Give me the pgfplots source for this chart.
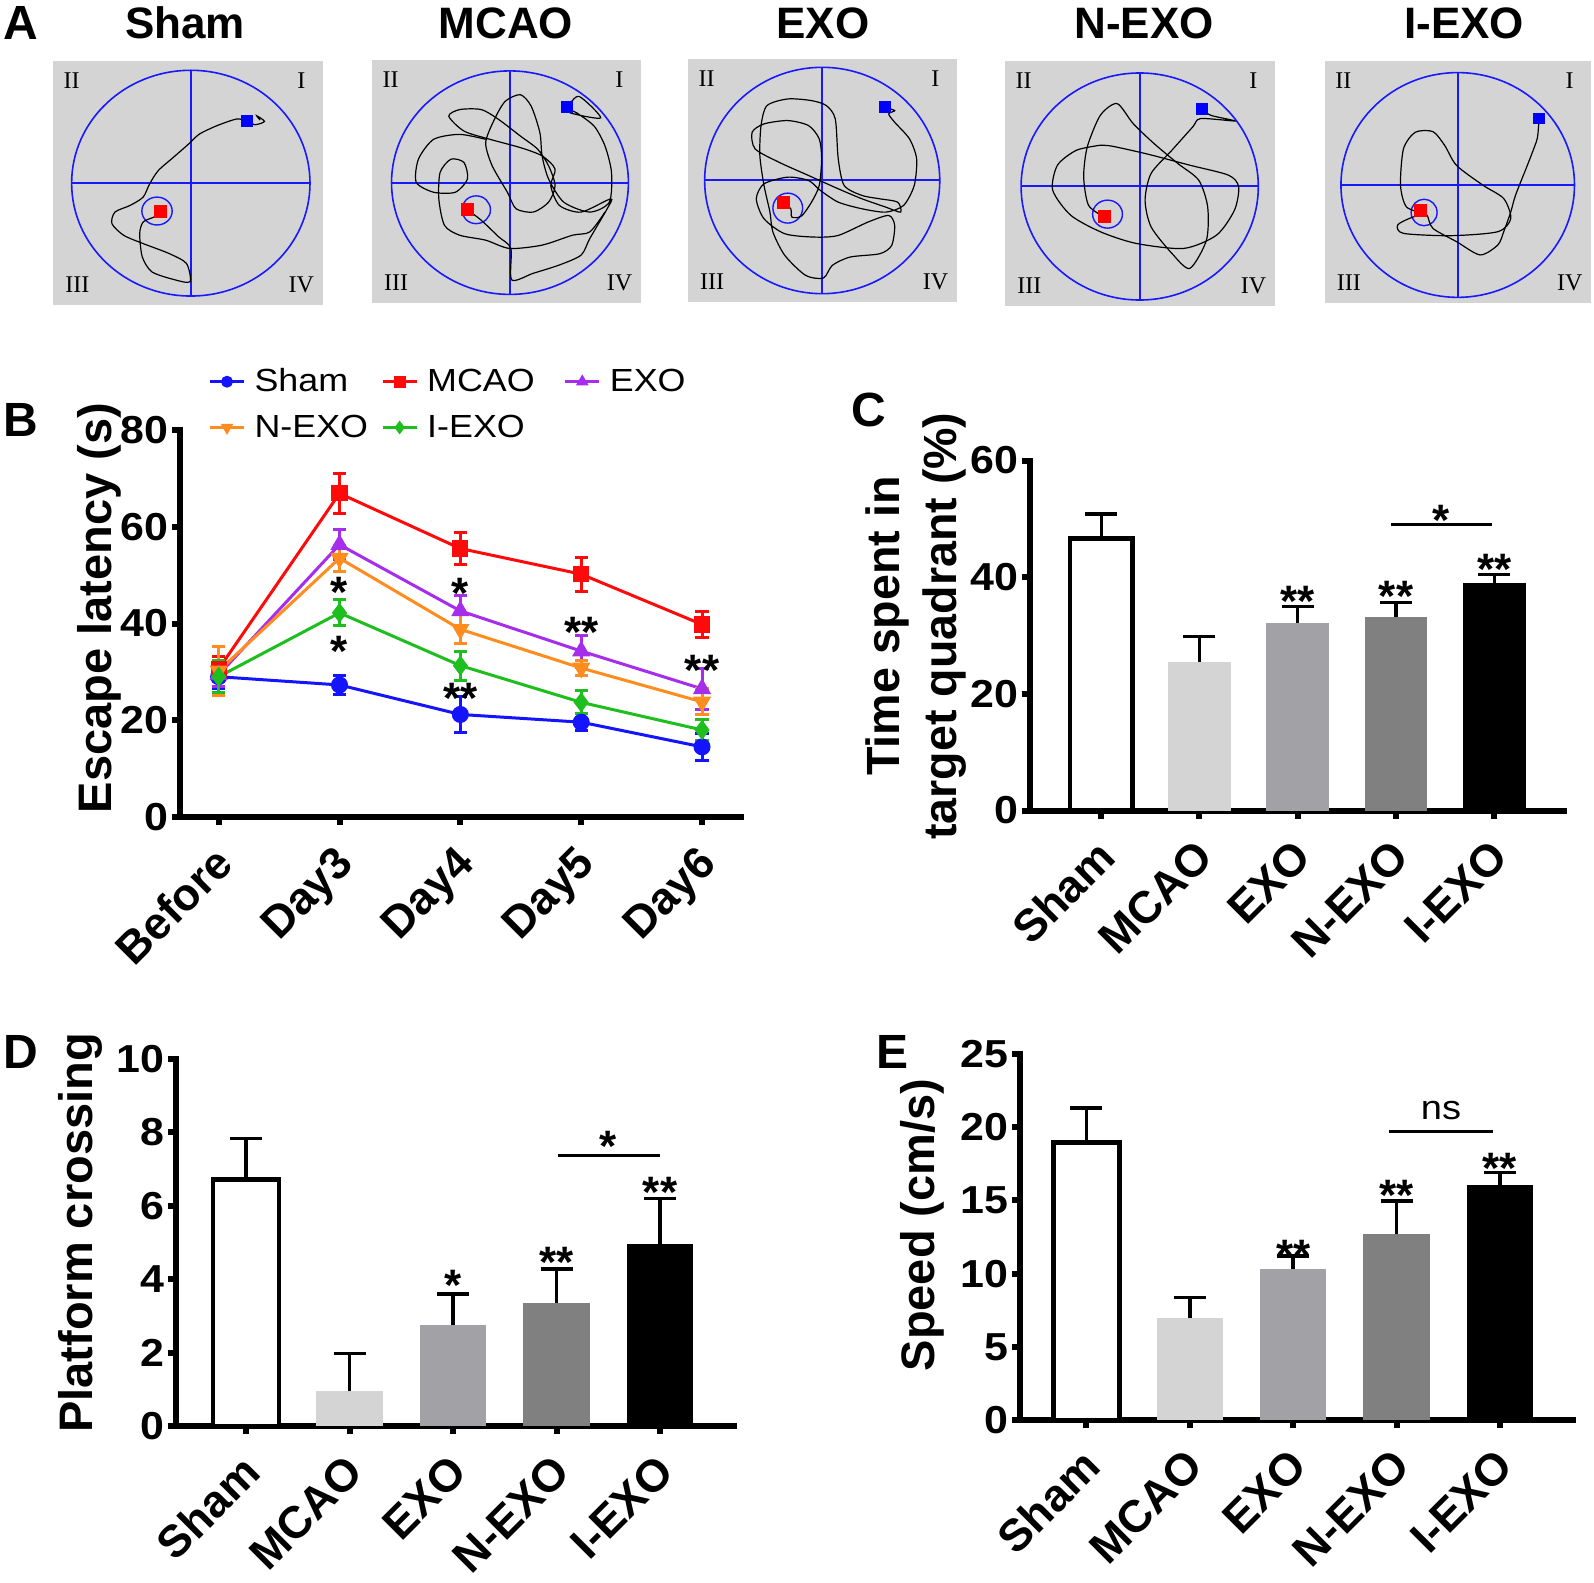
\documentclass[border=0pt]{standalone}
\usepackage{fontspec}
\setmainfont{Liberation Sans}
\newfontfamily\numfam[FakeStretch=1.1]{Liberation Sans}
\newfontfamily\legfam[FakeStretch=1.12]{Liberation Sans}
\newfontfamily\romfam{Liberation Serif}
\usepackage{pgfplots}
\pgfplotsset{compat=1.18}

\definecolor{poolgray}{RGB}{212,212,212}
\definecolor{poolblue}{RGB}{25,25,255}
\definecolor{cSham}{RGB}{20,20,255}
\definecolor{cMCAO}{RGB}{255,10,10}
\definecolor{cEXO}{RGB}{165,45,235}
\definecolor{cNEXO}{RGB}{255,140,30}
\definecolor{cIEXO}{RGB}{30,190,30}
\definecolor{gMCAO}{RGB}{212,212,212}
\definecolor{gEXO}{RGB}{162,162,166}
\definecolor{gNEXO}{RGB}{128,128,128}

\newcommand\numfont{\numfam\bfseries\fontsize{19.5}{22}\selectfont}
\newcommand\catfont{\bfseries\fontsize{22.5}{26}\selectfont}
\newcommand\labfont{\bfseries\fontsize{23.5}{27}\selectfont}
\newcommand\labfontC{\bfseries\fontsize{23.3}{28.5}\selectfont}
\newcommand\starfont{\bfseries\fontsize{22}{24}\selectfont}
\newcommand\letfont{\bfseries\fontsize{24}{28}\selectfont}
\newcommand\titfont{\bfseries\fontsize{22}{25}\selectfont}
\newcommand\legfont{\legfam\fontsize{16}{19}\selectfont}
\newcommand\nsfont{\legfam\fontsize{17}{20}\selectfont}
\newcommand\romfont{\romfam\fontsize{12}{14}\selectfont}

\tikzset{sig/.style={font=\starfont, anchor=base, inner sep=0pt, yshift=-12.6pt}}
\pgfplotsset{
  pool/.style={scale only axis, y dir=reverse, axis lines=none,
    xtick=\empty, ytick=\empty, axis background/.style={fill=poolgray}},
  trace/.style={black, line width=0.6pt, smooth, tension=0.45, no marks},
  quad/.style={poolblue, line width=1pt, no marks},
  prism/.style={scale only axis, axis x line*=bottom, axis y line*=left,
    axis line style={-, line width=3pt, line cap=rect},
    tick align=outside, major tick length=4pt,
    tick style={line width=3pt, black},
    ymin=0, clip=false,
    /pgf/number format/assume math mode=true,
    yticklabel style={font=\numfont, anchor=east, inner sep=0pt, xshift=-1.6pt},
    xticklabel style={font=\catfont, xshift=-3.25pt, yshift=-9pt, rotate=45, anchor=north east, inner sep=0pt},
    ylabel style={font=\labfont, anchor=center}},
  errb/.style={error bars/.cd, y dir=both, y explicit,
    error bar style={line width=1.5pt},
    error mark options={rotate=90, mark size=3.3pt, line width=1.5pt}},
}
\newcommand\pbar[5]{\addplot[ybar, bar shift=0pt, bar width=0.64, fill=#2, draw=#3, line width=#4,
  error bars/.cd, y dir=plus, y explicit, error bar style={line width=1.7pt, black},
  error mark options={rotate=90, mark size=8pt, line width=1.7pt, black}] coordinates {(#1) +- (0,#5)};}
\newcommand\quadlabels{%
\node[font=\romfont] at (rel axis cs:0.069,0.918) {II};
\node[font=\romfont] at (rel axis cs:0.92,0.918) {I};
\node[font=\romfont] at (rel axis cs:0.09,0.082) {III};
\node[font=\romfont] at (rel axis cs:0.92,0.082) {IV};}

\begin{document}
\begin{tikzpicture}
\useasboundingbox (0,0) rectangle (797pt,-791.5pt);

% ---------------- Panel A ----------------
\node[font=\letfont] at (10.5pt,-11.5pt) {A};
\node[font=\titfont] at (92.5pt,-11.5pt) {Sham};
\node[font=\titfont] at (253pt,-11.5pt) {MCAO};
\node[font=\titfont] at (411.5pt,-11.5pt) {EXO};
\node[font=\titfont] at (572pt,-11.5pt) {N-EXO};
\node[font=\titfont] at (732pt,-11.5pt) {I-EXO};

% Sham pool
\begin{axis}[pool, at={(26.5pt,-30.5pt)}, anchor=north west, width=135pt, height=122pt,
  xmin=122, xmax=745, ymin=180, ymax=915]
\draw[poolblue, line width=0.8pt] (axis cs:440,548) ellipse [x radius=275, y radius=340];
\addplot[quad] coordinates {(440,208) (440,888)};
\addplot[quad] coordinates {(165,548) (715,548)};
\draw[poolblue, line width=0.7pt] (axis cs:362,632) ellipse [x radius=35, y radius=42];
\addplot[trace] coordinates {(600,358) (592,345) (610,362) (588,372) (570,360) (545,355) (500,375) (460,400) (435,430) (400,470) (365,510) (345,550) (330,590) (300,615) (265,635) (258,670) (285,705) (330,730) (390,760) (430,790) (438,845) (400,838) (350,815) (328,770) (322,700) (330,665) (355,650) (370,635)};
\addplot[only marks, mark=square*, mark size=3pt, color=red] coordinates {(370,632)};
\addplot[only marks, mark=square*, mark size=2.7pt, color=blue] coordinates {(570,360)};
\quadlabels
\end{axis}

% MCAO pool
\begin{axis}[pool, at={(186pt,-30pt)}, anchor=north west, width=134.5pt, height=121.5pt,
  xmin=858, xmax=1478, ymin=180, ymax=915]
\draw[poolblue, line width=0.8pt] (axis cs:1176,551) ellipse [x radius=273, y radius=338];
\addplot[quad] coordinates {(1176,213) (1176,889)};
\addplot[quad] coordinates {(903,551) (1449,551)};
\draw[poolblue, line width=0.7pt] (axis cs:1098,633) ellipse [x radius=33, y radius=42];
\addplot[trace] coordinates {(1078,633) (1110,665) (1150,715) (1178,750) (1180,845) (1230,825) (1290,800) (1340,770) (1360,720) (1400,630) (1408,600) (1340,640) (1290,620) (1270,560) (1280,510) (1250,470) (1200,445) (1130,420) (1070,395) (1035,350) (1060,330) (1110,330) (1150,360) (1200,410) (1240,450) (1265,500) (1280,560) (1265,610) (1230,640) (1190,630) (1170,580) (1135,500) (1120,430) (1140,360) (1165,305) (1200,285) (1225,320) (1245,400) (1250,470) (1265,540) (1300,610) (1360,640) (1405,610) (1410,520) (1395,440) (1370,380) (1330,340) (1310,325) (1335,290) (1385,355) (1315,340) (1308,322)};
\addplot[trace] coordinates {(1120,420) (1060,405) (1000,420) (965,480) (960,550) (1000,580) (1050,580) (1078,540) (1070,490) (1040,480) (1015,520) (1012,600) (1025,680) (1060,710) (1120,725) (1175,750) (1250,740) (1320,710) (1360,700) (1395,640)};
\addplot[only marks, mark=square*, mark size=3pt, color=red] coordinates {(1078,633)};
\addplot[only marks, mark=square*, mark size=2.7pt, color=blue] coordinates {(1308,322)};
\quadlabels
\end{axis}

% EXO pool
\begin{axis}[pool, at={(344pt,-29.5pt)}, anchor=north west, width=134.5pt, height=121.5pt,
  xmin=47, xmax=500, ymin=180, ymax=910]
\draw[poolblue, line width=0.8pt] (axis cs:273,545) ellipse [x radius=198, y radius=340];
\addplot[quad] coordinates {(273,205) (273,885)};
\addplot[quad] coordinates {(75,545) (471,545)};
\draw[poolblue, line width=0.7pt] (axis cs:215,628) ellipse [x radius=25, y radius=45];
\addplot[trace] coordinates {(207,612) (220,630) (222,655) (238,652) (255,610) (268,560) (272,480) (268,420) (250,380) (215,365) (175,375) (155,400) (160,450) (200,490) (250,530) (300,570) (340,600) (380,625) (405,640) (400,610) (370,600) (340,590) (310,560) (300,480) (295,360) (280,320) (255,305) (215,300) (180,320) (170,380) (168,470) (175,560) (185,640) (190,700) (210,770) (245,830) (275,838) (290,800) (320,775) (370,765) (390,740) (395,680) (385,650) (350,670) (300,710) (260,715) (210,705) (175,660) (162,600) (175,555) (215,535) (250,545) (270,575) (300,610) (340,630) (380,640) (410,620) (428,560) (432,480) (420,420) (395,370) (385,345) (395,335) (378,325)};
\addplot[only marks, mark=square*, mark size=3pt, color=red] coordinates {(207,612)};
\addplot[only marks, mark=square*, mark size=2.7pt, color=blue] coordinates {(378,325)};
\quadlabels
\end{axis}

% N-EXO pool
\begin{axis}[pool, at={(502.5pt,-30.5pt)}, anchor=north west, width=135pt, height=122.5pt,
  xmin=580, xmax=1033, ymin=182, ymax=918]
\draw[poolblue, line width=0.8pt] (axis cs:806,559) ellipse [x radius=199, y radius=341];
\addplot[quad] coordinates {(806,218) (806,900)};
\addplot[quad] coordinates {(607,559) (1005,559)};
\draw[poolblue, line width=0.7pt] (axis cs:752,642) ellipse [x radius=25, y radius=42];
\addplot[trace] coordinates {(746,650) (720,615) (712,530) (718,440) (740,345) (768,310) (795,370) (830,430) (870,490) (905,540) (920,620) (918,720) (890,805) (860,760) (825,680) (815,600) (825,520) (860,450) (895,380) (908,355) (965,362) (925,345) (910,325)};
\addplot[trace] coordinates {(740,435) (700,450) (668,495) (660,570) (690,645) (740,695) (800,730) (880,745) (935,705) (965,630) (972,560) (955,525) (890,495) (820,462) (760,438) (740,435)};
\addplot[only marks, mark=square*, mark size=3pt, color=red] coordinates {(746,650)};
\addplot[only marks, mark=square*, mark size=2.7pt, color=blue] coordinates {(910,325)};
\quadlabels
\end{axis}

% I-EXO pool
\begin{axis}[pool, at={(662.5pt,-30.5pt)}, anchor=north west, width=133pt, height=121pt,
  xmin=1117, xmax=1568, ymin=185, ymax=915]
\draw[poolblue, line width=0.8pt] (axis cs:1342,559) ellipse [x radius=198, y radius=339];
\addplot[quad] coordinates {(1342,220) (1342,898)};
\addplot[quad] coordinates {(1144,559) (1540,559)};
\draw[poolblue, line width=0.7pt] (axis cs:1285,642) ellipse [x radius=22, y radius=40];
\addplot[trace] coordinates {(1278,636) (1290,650) (1300,690) (1340,730) (1380,770) (1410,740) (1420,700) (1432,640) (1440,590) (1460,500) (1475,430) (1478,405) (1480,358)};
\addplot[trace] coordinates {(1285,645) (1255,625) (1245,560) (1250,450) (1270,400) (1300,398) (1320,440) (1340,500) (1385,560) (1420,600) (1432,660) (1410,700) (1330,712) (1250,705) (1240,680) (1260,660) (1285,645)};
\addplot[only marks, mark=square*, mark size=3pt, color=red] coordinates {(1278,636)};
\addplot[only marks, mark=square*, mark size=2.7pt, color=blue] coordinates {(1480,358)};
\quadlabels
\end{axis}

% ---------------- Panel B ----------------
\node[font=\letfont] at (10.5pt,-210pt) {B};
\begin{axis}[prism, at={(90pt,-408.5pt)}, anchor=south west, width=280.35pt, height=193.5pt,
  xmin=-0.32, xmax=4.32, ymax=80, ytick={0,20,40,60,80},
  xtick={0,1,2,3,4}, xticklabels={Before,Day3,Day4,Day5,Day6},
  ylabel={Escape latency (s)}, ylabel style={at={(axis description cs:-0.144,0.54)}},
  legend columns=3, legend cell align=left,
  legend image post style={mark size=2.2pt},
  legend style={at={(0.05,1.17)}, anchor=north west, draw=none, fill=none, font=\legfont,
    inner sep=0pt, row sep=6pt,
    /tikz/column 1/.style={column sep=2.5pt},
    /tikz/column 2/.style={column sep=4.5pt},
    /tikz/column 3/.style={column sep=2.5pt},
    /tikz/column 4/.style={column sep=12.5pt},
    /tikz/column 5/.style={column sep=2.5pt}}]
\addplot[cSham, line width=1.5pt, mark=*, mark size=3.5pt, errb] table[x=x, y=y, y error=e] {
x y e
0 29.0 2.5
1 27.3 2.0
2 21.2 3.7
3 19.6 1.8
4 14.5 2.8
};
\addlegendentry{Sham}
\addplot[cMCAO, line width=1.5pt, mark=square*, mark size=3.3pt, errb] table[x=x, y=y, y error=e] {
x y e
0 30.6 2.5
1 66.9 4.1
2 55.5 3.3
3 50.2 3.5
4 39.8 2.7
};
\addlegendentry{MCAO}
\addplot[cEXO, line width=1.5pt, mark=triangle*, mark size=3.8pt, errb] table[x=x, y=y, y error=e] {
x y e
0 29.4 2.5
1 56.3 3.1
2 42.6 3.1
3 34.3 3.3
4 26.5 4.3
};
\addlegendentry{EXO}
\addplot[cNEXO, line width=1.5pt, mark=triangle*, mark size=3.8pt, mark options={rotate=180}, errb] table[x=x, y=y, y error=e] {
x y e
0 30.2 5.0
1 53.5 2.7
2 38.8 3.0
3 30.8 1.6
4 23.8 2.7
};
\addlegendentry{N-EXO}
\addplot[cIEXO, line width=1.5pt, mark=diamond*, mark size=3.8pt, errb] table[x=x, y=y, y error=e] {
x y e
0 29.0 3.3
1 42.2 2.7
2 31.3 3.0
3 23.7 2.4
4 18.0 2.1
};
\addlegendentry{I-EXO}
\node[sig] at (axis cs:1,48.6) {*};
\node[sig] at (axis cs:1,36.3) {*};
\node[sig] at (axis cs:2,48.4) {*};
\node[sig] at (axis cs:2,26.6) {**};
\node[sig] at (axis cs:3,40.2) {**};
\node[sig] at (axis cs:4,32.3) {**};
\end{axis}

% ---------------- Panel C ----------------
\node[font=\letfont] at (434.5pt,-205pt) {C};
\begin{axis}[prism, at={(514.75pt,-405.25pt)}, anchor=south west, width=267.25pt, height=175pt,
  xmin=-0.73, xmax=4.71, ymax=60, ytick={0,20,40,60},
  xtick={0,1,2,3,4}, xticklabels={Sham,MCAO,EXO,N-EXO,I-EXO},
  ylabel={Time spent in\\target quadrant (\%)},
  ylabel style={align=center, font=\labfontC, at={(axis description cs:-0.212,0.527)}}]
\pbar{0,46.6}{white}{black}{2.2pt}{4.2}
\pbar{1,25.5}{gMCAO}{none}{0pt}{4.3}
\pbar{2,32.2}{gEXO}{none}{0pt}{2.8}
\pbar{3,33.2}{gNEXO}{none}{0pt}{2.5}
\pbar{4,39.0}{black}{none}{0pt}{1.5}
\node[sig] at (axis cs:2,37.6) {**};
\node[sig] at (axis cs:3,38.5) {**};
\node[sig] at (axis cs:4,43.0) {**};
\draw[line width=1.5pt] (axis cs:2.95,49) -- (axis cs:3.98,49);
\node[sig] at (axis cs:3.46,51.4) {*};
\end{axis}

% ---------------- Panel D ----------------
\node[font=\letfont] at (10.5pt,-526pt) {D};
\begin{axis}[prism, at={(87.8pt,-713pt)}, anchor=south west, width=279pt, height=183.5pt,
  xmin=-0.68, xmax=4.71, ymax=10, ytick={0,2,4,6,8,10},
  xtick={0,1,2,3,4}, xticklabels={Sham,MCAO,EXO,N-EXO,I-EXO},
  ylabel={Platform crossing},
  ylabel style={at={(axis description cs:-0.171,0.526)}}]
\pbar{0,6.72}{white}{black}{2.2pt}{1.11}
\pbar{1,0.95}{gMCAO}{none}{0pt}{1.03}
\pbar{2,2.75}{gEXO}{none}{0pt}{0.85}
\pbar{3,3.35}{gNEXO}{none}{0pt}{0.93}
\pbar{4,4.97}{black}{none}{0pt}{1.23}
\node[sig] at (axis cs:2,4.1) {*};
\node[sig] at (axis cs:3,4.74) {**};
\node[sig] at (axis cs:4,6.65) {**};
\draw[line width=1.5pt] (axis cs:3.01,7.37) -- (axis cs:4.0,7.37);
\node[sig] at (axis cs:3.5,7.9) {*};
\end{axis}

% ---------------- Panel E ----------------
\node[font=\letfont] at (446pt,-526pt) {E};
\begin{axis}[prism, at={(510.15pt,-710pt)}, anchor=south west, width=276.5pt, height=183pt,
  xmin=-0.64, xmax=4.71, ymax=25, ytick={0,5,10,15,20,25},
  xtick={0,1,2,3,4}, xticklabels={Sham,MCAO,EXO,N-EXO,I-EXO},
  ylabel={Speed (cm/s)},
  ylabel style={at={(axis description cs:-0.178,0.533)}}]
\pbar{0,18.95}{white}{black}{2.2pt}{2.35}
\pbar{1,6.95}{gMCAO}{none}{0pt}{1.4}
\pbar{2,10.3}{gEXO}{none}{0pt}{0.9}
\pbar{3,12.7}{gNEXO}{none}{0pt}{2.25}
\pbar{4,16.05}{black}{none}{0pt}{0.85}
\node[sig] at (axis cs:2,11.95) {**};
\node[sig] at (axis cs:3,16.0) {**};
\node[sig] at (axis cs:4,17.85) {**};
\draw[line width=1.5pt] (axis cs:2.93,19.7) -- (axis cs:3.93,19.7);
\node[font=\nsfont, anchor=base, inner sep=0pt, yshift=-4.4pt] at (axis cs:3.43,21.1) {ns};
\end{axis}
\end{tikzpicture}
\end{document}
